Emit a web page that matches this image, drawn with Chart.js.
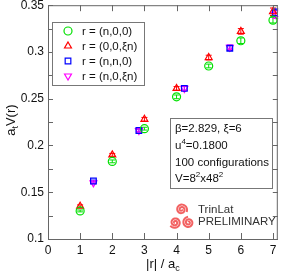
<!DOCTYPE html>
<html>
<head>
<meta charset="utf-8">
<script src="https://cdn.jsdelivr.net/npm/chart.js@4"></script>
<style>
  html, body { margin: 0; padding: 0; background: #fff; }
  canvas { display: block; }
</style>
</head>
<body>
<canvas id="potChart" width="283" height="275"></canvas>
<script>
// on-axis separations and diagonal separations (n*sqrt2)
var rAxis = [1, 2, 3, 4, 5, 6, 7];
var rDiag = [1.414, 2.828, 4.243, 5.657, 7.071];

var vN00 = [0.130, 0.183, 0.218, 0.252, 0.285, 0.312, 0.334];
var vN00Err = [0.001, 0.0015, 0.0015, 0.002, 0.002, 0.003, 0.003];
var v00Xn = [0.135, 0.190, 0.228, 0.261, 0.294, 0.322, 0.343];
var v00XnErr = [0.0015, 0.0015, 0.002, 0.002, 0.0025, 0.003, 0.004];
var vNN0 = [0.162, 0.216, 0.261, 0.304, 0.342];
var vNN0Err = [0.001, 0.0015, 0.002, 0.0025, 0.004];
var vN0Xn = [0.160, 0.216, 0.261, 0.305, 0.340];
var vN0XnErr = [0.001, 0.0015, 0.002, 0.0025, 0.004];

var seriesLabels = ['r = (n,0,0)', 'r = (0,0,\u03BEn)', 'r = (n,n,0)', 'r = (n,0,\u03BEn)'];
var xTicks = [0, 1, 2, 3, 4, 5, 6, 7];
var yTicks = [0.1, 0.15, 0.2, 0.25, 0.3, 0.35];

var infoLines = ['\u03B2=2.829, \u03BE=6', 'u^4=0.1800', '100 configurations', 'V=8^2x48^2'];

function pts(xs, ys, es) {
    return xs.map((x, i) => ({ x: x, y: ys[i], err: es[i] }));
}

var FONT = 'Liberation Sans, Arial, sans-serif';

// error bars behind the markers
var errorBars = {
    id: 'errorBars',
    beforeDatasetsDraw(chart) {
        var ctx = chart.ctx, ys = chart.scales.y, xs = chart.scales.x;
        ctx.save();
        chart.data.datasets.forEach(ds => {
            ctx.strokeStyle = ds.borderColor;
            ctx.lineWidth = 1;
            ds.data.forEach(p => {
                var px = xs.getPixelForValue(p.x);
                var y1 = ys.getPixelForValue(p.y - p.err), y2 = ys.getPixelForValue(p.y + p.err);
                ctx.beginPath();
                ctx.moveTo(px, y1); ctx.lineTo(px, y2);
                ctx.moveTo(px - 3, y1); ctx.lineTo(px + 3, y1);
                ctx.moveTo(px - 3, y2); ctx.lineTo(px + 3, y2);
                ctx.stroke();
            });
        });
        ctx.restore();
    }
};

// text with ^ superscripts / _ subscripts
function richText(ctx, str, x, y, size) {
    var parts = str.split(/([\^_]\w)/).filter(s => s.length);
    parts.forEach(s => {
        if (s[0] === '^' || s[0] === '_') {
            ctx.font = Math.round(size * 0.7) + 'px ' + FONT;
            var dy = s[0] === '^' ? -size * 0.4 : size * 0.35;
            ctx.fillText(s[1], x, y + dy);
            x += ctx.measureText(s[1]).width;
        } else {
            ctx.font = size + 'px ' + FONT;
            ctx.fillText(s, x, y);
            x += ctx.measureText(s).width;
        }
    });
    return x;
}
function richWidth(ctx, str, size) {
    var w = 0;
    str.split(/([\^_]\w)/).filter(s => s.length).forEach(s => {
        if (s[0] === '^' || s[0] === '_') {
            ctx.font = Math.round(size * 0.7) + 'px ' + FONT;
            w += ctx.measureText(s[1]).width;
        } else {
            ctx.font = size + 'px ' + FONT;
            w += ctx.measureText(s).width;
        }
    });
    return w;
}

var decorations = {
    id: 'decorations',
    afterDraw(chart) {
        var ctx = chart.ctx, a = chart.chartArea;
        var xs = chart.scales.x, ys = chart.scales.y;
        ctx.save();
        // frame + inward ticks
        ctx.strokeStyle = '#666';
        ctx.lineWidth = 1;
        ctx.strokeRect(a.left + 0.5, a.top + 0.5, a.right - a.left - 1, a.bottom - a.top);
        ctx.beginPath();
        xTicks.forEach(v => {
            var px = Math.round(xs.getPixelForValue(v)) + 0.5;
            ctx.moveTo(px, a.bottom); ctx.lineTo(px, a.bottom - 6);
            ctx.moveTo(px, a.top); ctx.lineTo(px, a.top + 6);
        });
        for (var v = 0.1; v < 0.351; v += 0.025) {
            var py = Math.round(ys.getPixelForValue(v)) + 0.5;
            ctx.moveTo(a.left, py); ctx.lineTo(a.left + 5, py);
            ctx.moveTo(a.right, py); ctx.lineTo(a.right - 5, py);
        }
        ctx.stroke();

        ctx.fillStyle = '#111';
        ctx.textBaseline = 'middle';
        ctx.textAlign = 'left';
        // axis titles
        var tw = richWidth(ctx, '|r| / a_c', 13);
        richText(ctx, '|r| / a_c', (a.left + a.right) / 2 - tw / 2, 264, 13);
        ctx.save();
        ctx.translate(11, (a.top + a.bottom) / 2 - 2);
        ctx.rotate(-Math.PI / 2);
        tw = richWidth(ctx, 'a_tV(r)', 13);
        richText(ctx, 'a_tV(r)', -tw / 2, 0, 13);
        ctx.restore();

        // legend box
        ctx.strokeStyle = '#777';
        ctx.strokeRect(52.5, 22.5, 92, 63);
        chart.data.datasets.forEach((ds, i) => {
            var ly = 31 + i * 15;
            ctx.fillStyle = 'rgba(0,0,0,0)';
            ctx.strokeStyle = ds.borderColor;
            ctx.lineWidth = 1.2;
            Chart.helpers.drawPoint(ctx, {
                pointStyle: ds.pointStyle, rotation: ds.rotation || 0,
                radius: 4, borderWidth: 1.2
            }, 68, ly);
            ctx.fillStyle = '#111';
            ctx.font = '11.5px ' + FONT;
            ctx.fillText(ds.label, 82, ly + 0.5);
        });

        // info box
        ctx.strokeStyle = '#777';
        ctx.lineWidth = 1;
        ctx.strokeRect(170.5, 118.5, 102, 70);
        var infoY = [129, 146, 163, 179];
        infoLines.forEach((t, i) => richText(ctx, t, 175, infoY[i], 11.5));

        // TrinLat mark
        ctx.strokeStyle = 'rgba(240,70,70,0.85)';
        ctx.lineWidth = 2;
        [[181.5, 209.5, 0], [175, 222.5, 2.1], [188.5, 222.5, 4.2]].forEach(c => {
            ctx.beginPath();
            for (var t = 0; t <= 4.2 * Math.PI; t += 0.2) {
                var r = 0.5 + t * 0.4;
                var px = c[0] + r * Math.cos(t + c[2]);
                var py = c[1] + r * Math.sin(t + c[2]);
                if (t === 0) ctx.moveTo(px, py); else ctx.lineTo(px, py);
            }
            ctx.stroke();
        });
        ctx.fillStyle = '#333';
        ctx.font = '11.5px ' + FONT;
        ctx.fillText('TrinLat', 198, 210);
        ctx.fillText('PRELIMINARY', 198, 222);
        ctx.restore();
    }
};

var ctx = document.getElementById('potChart').getContext('2d');
var myChart = new Chart(ctx, {
    type: 'scatter',
    data: {
        datasets: [
            { label: seriesLabels[0], data: pts(rAxis, vN00, vN00Err), borderColor: '#00e000', pointStyle: 'circle' },
            { label: seriesLabels[1], data: pts(rAxis, v00Xn, v00XnErr), borderColor: '#ff0000', pointStyle: 'triangle' },
            { label: seriesLabels[2], data: pts(rDiag, vNN0, vNN0Err), borderColor: '#0000ff', pointStyle: 'rect' },
            { label: seriesLabels[3], data: pts(rDiag, vN0Xn, vN0XnErr), borderColor: '#ff00ff', pointStyle: 'triangle', rotation: 180 }
        ].map(d => Object.assign(d, {
            backgroundColor: 'rgba(0,0,0,0)', pointRadius: 4, pointBorderWidth: 1.2, showLine: false
        }))
    },
    options: {
        responsive: false,
        animation: false,
        devicePixelRatio: 1,
        layout: { padding: { top: 0, right: 3, left: 0, bottom: 0 } },
        plugins: { legend: { display: false }, tooltip: { enabled: false } },
        scales: {
            x: {
                type: 'linear', min: 0, max: 7.15,
                grid: { display: false, drawTicks: false }, border: { display: false },
                ticks: { padding: 4, color: '#111', font: { size: 12, family: FONT } },
                afterBuildTicks: s => { s.ticks = xTicks.map(v => ({ value: v })); },
                afterFit: s => { s.height = 36; s.paddingLeft = 0; s.paddingRight = 0; }
            },
            y: {
                min: 0.1, max: 0.35,
                grid: { display: false, drawTicks: false }, border: { display: false },
                ticks: { padding: 4, color: '#111', font: { size: 12, family: FONT },
                         callback: v => String(+v.toFixed(3)) },
                afterBuildTicks: s => { s.ticks = yTicks.map(v => ({ value: v })); },
                afterFit: s => { s.width = 48; s.paddingTop = 5; s.paddingBottom = 0; }
            }
        }
    },
    plugins: [errorBars, decorations]
});
</script>
</body>
</html>
